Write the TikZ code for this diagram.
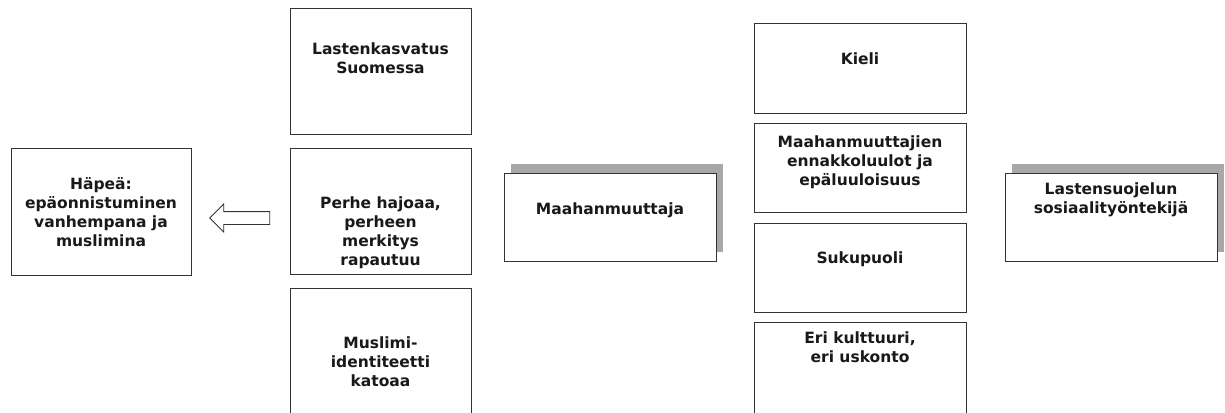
\documentclass[tikz,border=0pt]{standalone}
\usepackage{fontspec}
\setmainfont{DejaVu Sans}
\usetikzlibrary{positioning, shapes.arrows, shadows}
\definecolor{edge}{HTML}{333333}
\definecolor{shade}{HTML}{A8A8A8}

\begin{document}
\begin{tikzpicture}[x=1pt, y=-1pt,
    box/.style 2 args={rectangle, draw=edge, line width=1pt, fill=white,
                       minimum width=#1, minimum height=#2, inner sep=0pt},
    shadowed/.style={drop shadow={shadow xshift=7pt, shadow yshift=9pt,
                     fill=shade, opacity=1}},
    lbl/.style={font=\bfseries\fontsize{15.5}{19}\selectfont, align=center,
                inner sep=0pt, text=black!90},
    blockarr/.style={single arrow, draw=edge, line width=0.8pt, fill=white,
                     shape border rotate=180, minimum height=60pt,
                     inner xsep=0pt, inner ysep=6pt, single arrow head extend=7.5pt}
]
\useasboundingbox (0,0) rectangle (1225,412);

% left: outcome
\node[box={180}{127}] (hapea) at (101,211.5) {};
\node[lbl, below=30pt of hapea.north] (hapeaT) {Häpeä:\\epäonnistuminen\\vanhempana ja\\muslimina};

% middle column
\node[box={181}{125}] (lasten) at (380.5,71.5) {};
\node[box={181}{126}] (perhe) at (380.5,211) {};
\node[box={181}{132}] (muslimi) at (380.5,354) {};
\node[lbl, below=34pt of lasten.north] (lastenT) {Lastenkasvatus\\Suomessa};
\node[lbl, below=49pt of perhe.north] (perheT) {Perhe hajoaa,\\perheen\\merkitys\\rapautuu};
\node[lbl, below=49pt of muslimi.north] (muslimiT) {Muslimi-\\identiteetti\\katoaa};

\node[blockarr] (nuoli) at (243,218) {};

% actors
\node[box={212}{88}, shadowed] (maahan) at (610,217) {};
\node[lbl, below=30pt of maahan.north] (maahanT) {Maahanmuuttaja};
\node[box={212}{88}, shadowed] (sosiaali) at (1111,217) {};
\node[lbl, below=10pt of sosiaali.north] (sosiaaliT) {Lastensuojelun\\sosiaalityöntekijä};

% right column
\node[box={212}{89}] (kieli) at (860,68.5) {};
\node[box={212}{89}] (ennakko) at (860,167.5) {};
\node[box={212}{89}] (suku) at (860,267.5) {};
\node[box={212}{98}] (kulttuuri) at (860,371) {};
\node[lbl, below=29pt of kieli.north] (kieliT) {Kieli};
\node[lbl, below=13pt of ennakko.north] (ennakkoT) {Maahanmuuttajien\\ennakkoluulot ja\\epäluuloisuus};
\node[lbl, below=29pt of suku.north] (sukuT) {Sukupuoli};
\node[lbl, below=10pt of kulttuuri.north] (kulttuuriT) {Eri kulttuuri,\\eri uskonto};
\end{tikzpicture}
\end{document}
